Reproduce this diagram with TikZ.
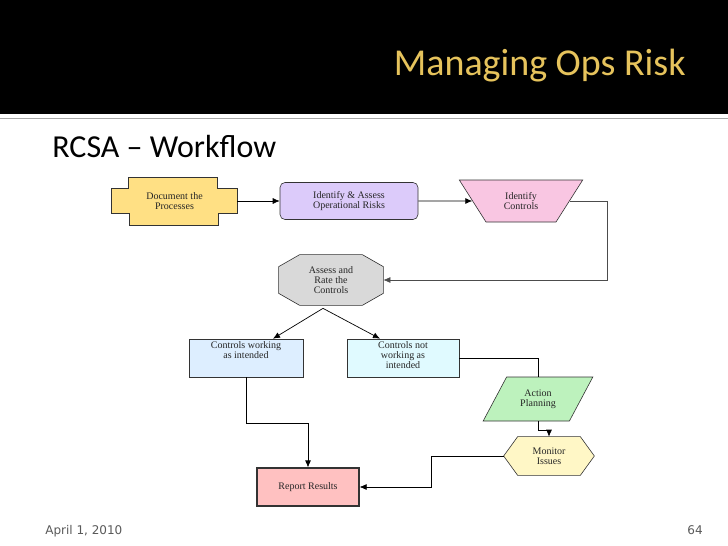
\documentclass[tikz,border=0pt]{standalone}
\usepackage{fontspec}
\setmainfont{Liberation Serif}
\newfontfamily\slidefont{Carlito}
\newfontfamily\footfont{DejaVu Sans}
\usetikzlibrary{shapes,arrows.meta,positioning,calc,backgrounds}
\definecolor{titlegold}{HTML}{E6C35C}
\definecolor{docyellow}{HTML}{FFE084}
\definecolor{idapurple}{HTML}{DCCBFA}
\definecolor{ctlpink}{HTML}{F9C6E2}
\definecolor{octgray}{HTML}{D9D9D9}
\definecolor{cworkblue}{HTML}{DDEEFF}
\definecolor{cnotcyan}{HTML}{E0FAFF}
\definecolor{actgreen}{HTML}{BDF2BD}
\definecolor{monyellow}{HTML}{FFF7C6}
\definecolor{reportpink}{HTML}{FFC1C1}
\tikzstyle{block} = [rectangle, draw=black!80, line width=0.6pt, align=center, text=black!85, font=\fontsize{10}{10}\selectfont, inner sep=1pt]
\tikzstyle{plain} = [rectangle, align=center, text=black!85, font=\fontsize{10}{10}\selectfont, inner sep=0pt]
\tikzstyle{outline} = [draw=black!80, line width=0.6pt]
\tikzstyle{toptext} = [anchor=north, yshift=-1.5pt, align=center, text=black!85, font=\fontsize{10}{10}\selectfont, inner sep=1pt]

\begin{document}
\begin{tikzpicture}[x=1pt, y=1pt, >={Latex[length=7pt,width=6pt]}, line width=0.7pt]
    \useasboundingbox (0,0) rectangle (728,-546);
    % slide header
    \fill[black] (0,0) rectangle (728,-114);
    \draw[black!35, line width=1.6pt] (0,-118.5) -- (728,-118.5);
    \node[anchor=base east, inner sep=0pt, text=titlegold, font=\slidefont\fontsize{38}{42}\selectfont] (title) at (686,-75) {Managing Ops Risk};
    \node[anchor=base west, inner sep=0pt, font=\slidefont\fontsize{32}{36}\selectfont] (sub) at (52,-157) {RCSA – Workflow};

    \node[plain, minimum width=125pt, minimum height=24pt] (doc) at (174.5,-201) {Document the\\Processes};
    \node[block, rounded corners=5pt, fill=idapurple, minimum width=138pt, minimum height=37pt] (ida) at (349,-201) {Identify \& Assess\\Operational Risks};
    \node[block, trapezium, trapezium left angle=54, trapezium right angle=54, shape border rotate=180, trapezium stretches=true, minimum width=124pt, minimum height=42pt, fill=ctlpink] (ictl) at (521,-201) {Identify\\Controls};
    \node[plain, minimum width=104pt, minimum height=50pt] (assess) at (331,-280) {Assess and\\Rate the\\Controls};
    \node[block, fill=cworkblue, minimum width=114pt, minimum height=38pt, label={[toptext]north:{Controls working\\as intended}}] (cwork) at (246,-358) {};
    \node[block, fill=cnotcyan, minimum width=112pt, minimum height=38pt, label={[toptext]north:{Controls not\\working as\\intended}}] (cnot) at (403,-358) {};
    \node[block, trapezium, trapezium left angle=56, trapezium right angle=124, trapezium stretches=true, minimum width=110pt, minimum height=44pt, fill=actgreen] (action) at (538,-399) {Action\\Planning};
    \node[plain, minimum width=90pt, minimum height=38pt] (monitor) at (549,-456) {Monitor\\Issues};
    \node[block, fill=reportpink, line width=1.2pt, minimum width=102pt, minimum height=38pt] (report) at (308,-487) {Report Results};

    % outlines behind the text
    \begin{scope}[on background layer]
        \draw[outline, fill=docyellow] (doc.north west) -- ++(17,0) -- ++(0,11) -- ++(89,0) -- ++(0,-11) -- (doc.north east) -- (doc.south east) -- ++(-19,0) -- ++(0,-12) -- ++(-89,0) -- ++(0,12) -- (doc.south west) -- cycle;
        \draw[outline, fill=octgray] ($(assess.north west)+(21,0)$) -- ($(assess.north east)+(-21,0)$) -- ($(assess.north east)+(0,-12)$) -- ($(assess.south east)+(0,12)$) -- ($(assess.south east)+(-21,0)$) -- ($(assess.south west)+(21,0)$) -- ($(assess.south west)+(0,12)$) -- ($(assess.north west)+(0,-12)$) -- cycle;
        \draw[outline, fill=monyellow] (monitor.west) -- ($(monitor.north west)+(14,0)$) -- ($(monitor.north east)+(-14,0)$) -- (monitor.east) -- ($(monitor.south east)+(-14,0)$) -- ($(monitor.south west)+(14,0)$) -- cycle;
    \end{scope}

    \coordinate (split) at ($(assess.south)+(-8,-3)$);

    \draw[->] (doc.east) -- (ida);
    \draw[->] (ida) -- (ictl);
    \draw[->, black!70] (ictl.east) -- ++(38,0) |- (assess.east);
    \draw[->] (split) -- ($(cwork.north)+(27,0)$);
    \draw[->] (split) -- ($(cnot.north)+(-23,0)$);
    \draw[->] (cwork.south) -- ++(0,-46) -| (report.north);
    \draw (cnot.east) -| (action.north);
    \draw[->] (action.south) -- ++(0,-9) -| (monitor.north);
    \draw[->] (monitor.west) -- ++(-72,0) |- (report.east);

    % footer
    \node[anchor=base west, inner sep=0pt, text=black!65, font=\footfont\fontsize{12}{14}\selectfont] (date) at (45,-534) {April 1, 2010};
    \node[anchor=base east, inner sep=0pt, text=black!65, font=\footfont\fontsize{12}{14}\selectfont] (page) at (703,-534) {64};
\end{tikzpicture}
\end{document}
